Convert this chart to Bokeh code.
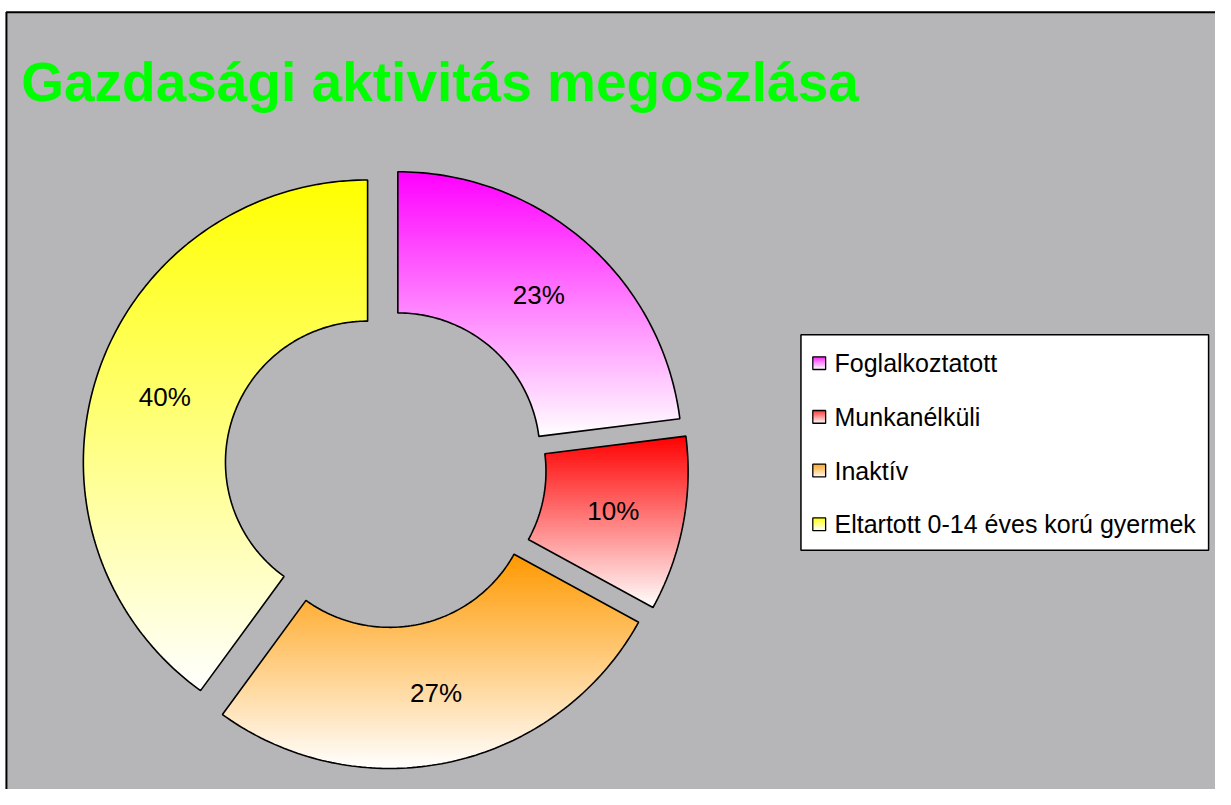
import numpy as np
from bokeh.plotting import figure
from bokeh.models import Range1d, ColumnDataSource
from bokeh.embed import file_html
from bokeh.resources import INLINE
from bokeh.core.properties import value

# ---- data ----
title = "Gazdasági aktivitás megoszlása"
categories = ["Foglalkoztatott", "Munkanélküli", "Inaktív", "Eltartott 0-14 éves korú gyermek"]
shares = [23, 10, 27, 40]
colors = ["#FF00FF", "#FF0000", "#FF9900", "#FFFF00"]

# ---- layout (reference pixel coordinates, 1231 x 805) ----
W, H = 1215, 789
REF_W, REF_H = 1231, 805
SX, SY = W / REF_W, H / REF_H
CX, CY = 390, 477
R_OUT, R_IN = 288, 144
EXPLODE = 19
LABEL_R = (R_OUT + R_IN) / 2
BG = "#b6b6b9"
FONT = value("Liberation Sans")


def tx(x):
    return np.asarray(x, dtype=float) * SX


def ty(y):
    return H - np.asarray(y, dtype=float) * SY


def hex2rgb(h):
    h = h.lstrip("#")
    return tuple(int(h[i:i + 2], 16) for i in (0, 2, 4))


def mix(col, f):
    r, g, b = hex2rgb(col)
    return "#%02x%02x%02x" % (round(255 + (r - 255) * f), round(255 + (g - 255) * f), round(255 + (b - 255) * f))


def clip_half(pts, keep, inter):
    out = []
    n = len(pts)
    for i in range(n):
        cur, prev = pts[i], pts[i - 1]
        if keep(cur):
            if not keep(prev):
                out.append(inter(prev, cur))
            out.append(cur)
        elif keep(prev):
            out.append(inter(prev, cur))
    return out


def inter_y(y0):
    def f(p, q):
        t = (y0 - p[1]) / (q[1] - p[1])
        return (p[0] + t * (q[0] - p[0]), y0)
    return f


def clip_band(pts, lo, hi):
    pts = clip_half(pts, lambda p: p[1] >= lo, inter_y(lo))
    if len(pts) < 3:
        return []
    pts = clip_half(pts, lambda p: p[1] <= hi, inter_y(hi))
    return pts if len(pts) >= 3 else []


p = figure(width=W, height=H, x_range=Range1d(0, W), y_range=Range1d(0, H),
           output_backend="svg", toolbar_location=None, x_axis_location=None, y_axis_location=None,
           min_border=0, outline_line_color=None, background_fill_color="white", border_fill_color="white")
p.xgrid.visible = False
p.ygrid.visible = False

# chart area background with border (top & left visible)
p.quad(left=[float(tx(6))], right=[W + 50], top=[float(ty(12))], bottom=[-50],
       fill_color=BG, line_color="black", line_width=2)

# ---- donut slices with vertical gradient (computed in reference pixel space, y down) ----
total = float(sum(shares))
band_xs, band_ys, band_cols = [], [], []
out_xs, out_ys = [], []
lab_x, lab_y, lab_t = [], [], []
a = 0.0
for share, col in zip(shares, colors):
    a0 = a
    a1 = a + 2 * np.pi * share / total
    a = a1
    mid = (a0 + a1) / 2
    cxs = CX + EXPLODE * np.sin(mid)
    cys = CY - EXPLODE * np.cos(mid)
    n = max(12, int(np.degrees(a1 - a0)))
    t = np.linspace(a0, a1, n)
    xs = np.concatenate([cxs + R_OUT * np.sin(t), cxs + R_IN * np.sin(t[::-1])])
    ys = np.concatenate([cys - R_OUT * np.cos(t), cys - R_IN * np.cos(t[::-1])])
    out_xs.append(list(tx(xs)))
    out_ys.append(list(ty(ys)))
    pts = list(zip(xs, ys))
    ymin, ymax = ys.min(), ys.max()   # ymin = top (full colour), ymax = bottom (white)
    step = 3.0
    lo = ymin
    while lo < ymax:
        hi = min(lo + step, ymax)
        poly = clip_band(pts, lo, min(hi + 0.8, ymax))
        if poly:
            f = 1 - ((lo + hi) / 2 - ymin) / (ymax - ymin)
            band_xs.append(list(tx([q[0] for q in poly])))
            band_ys.append(list(ty([q[1] for q in poly])))
            band_cols.append(mix(col, f))
        lo = hi
    lab_x.append(float(tx(cxs + LABEL_R * np.sin(mid))))
    lab_y.append(float(ty(cys - LABEL_R * np.cos(mid))))
    lab_t.append("%d%%" % round(100 * share / total))

p.patches(xs="xs", ys="ys", fill_color="c", line_color=None,
          source=ColumnDataSource(dict(xs=band_xs, ys=band_ys, c=band_cols)))
p.patches(xs=out_xs, ys=out_ys, fill_alpha=0, line_color="black", line_width=1.6)

p.text(x=lab_x, y=lab_y, text=lab_t, text_align="center", text_baseline="middle",
       text_font=FONT, text_font_size="26px", text_color="black")

# ---- title ----
p.text(x=[float(tx(21))], y=[float(ty(83))], text=[title], text_align="left", text_baseline="middle",
       text_font=FONT, text_font_style="bold", text_font_size="55px", text_color="#00FF00")

# ---- legend ----
LX0, LX1, LY0, LY1 = 811, 1224, 341, 561
p.quad(left=[float(tx(LX0))], right=[float(tx(LX1))], top=[float(ty(LY0))], bottom=[float(ty(LY1))],
       fill_color="white", line_color="black", line_width=1.5)
row_y = [370 + i * 54.8 for i in range(len(categories))]
sq_l, sq_r, sq_h = 823, 836, 13
ql, qr, qt, qb, qc = [], [], [], [], []
for ry, col in zip(row_y, colors):
    top = ry - sq_h / 2
    for k in range(sq_h):
        ql.append(float(tx(sq_l)))
        qr.append(float(tx(sq_r)))
        qt.append(float(ty(top + k)))
        qb.append(float(ty(top + k + 1.1)))
        qc.append(mix(col, 1 - (k + 0.5) / sq_h))
p.quad(left=ql, right=qr, top=qt, bottom=qb, fill_color=qc, line_color=None)
p.quad(left=[float(tx(sq_l))] * 4, right=[float(tx(sq_r))] * 4,
       top=[float(ty(r - sq_h / 2)) for r in row_y], bottom=[float(ty(r + sq_h / 2)) for r in row_y],
       fill_alpha=0, line_color="black", line_width=1.3)
p.text(x=[float(tx(845))] * 4, y=[float(ty(r)) for r in row_y], text=categories, text_align="left",
       text_baseline="middle", text_font=FONT, text_font_size="25px", text_color="black")

open("out.html", "w").write(file_html(p, INLINE))
